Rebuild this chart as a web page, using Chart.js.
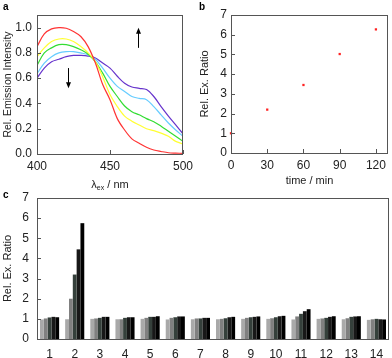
<!DOCTYPE html>
<html>
<head>
<meta charset="utf-8">
<script src="https://cdn.jsdelivr.net/npm/chart.js@4/dist/chart.umd.min.js"></script>
<style>
body { margin: 0; background: #fff; }
#wrap { position: relative; width: 392px; height: 358px; overflow: hidden; }
canvas { position: absolute; }
.lbl { position: absolute; font: bold 10px "Liberation Sans", Arial, sans-serif; color: #000; }
</style>
</head>
<body>
<div id="wrap">
	<canvas id="chartA" style="left:0;top:0" width="195" height="192"></canvas>
	<canvas id="chartB" style="left:195px;top:0" width="197" height="192"></canvas>
	<canvas id="chartC" style="left:0;top:190px" width="392" height="168"></canvas>
	<div class="lbl" style="left:3px;top:1px">a</div>
	<div class="lbl" style="left:199px;top:1px">b</div>
	<div class="lbl" style="left:3px;top:189px">c</div>
</div>
<script>
// panel a : emission spectra
const wavelengths = [400,405,410,415,420,425,430,435,440,445,450,455,460,465,470,475,480,485,490,495,500];
const redCurve    = [0.85,0.95,0.99,1.00,0.995,0.97,0.93,0.85,0.72,0.55,0.43,0.28,0.19,0.12,0.085,0.053,0.032,0.02,0.01,0.007,0.005];
const yellowCurve = [0.77,0.84,0.89,0.91,0.91,0.89,0.85,0.80,0.73,0.61,0.47,0.375,0.30,0.26,0.23,0.20,0.185,0.165,0.14,0.10,0.08];
const greenCurve  = [0.70,0.80,0.84,0.865,0.865,0.85,0.825,0.79,0.73,0.64,0.535,0.455,0.38,0.335,0.31,0.28,0.255,0.22,0.18,0.14,0.10];
const blueCurve   = [0.635,0.72,0.77,0.80,0.81,0.81,0.80,0.785,0.75,0.68,0.60,0.535,0.495,0.455,0.44,0.43,0.375,0.31,0.245,0.19,0.14];
const purpleCurve = [0.60,0.68,0.73,0.75,0.77,0.78,0.78,0.775,0.76,0.72,0.68,0.615,0.56,0.53,0.52,0.51,0.455,0.375,0.30,0.23,0.16];
const curveColors = ["#ff3333","#ffff33","#33dd33","#66ccff","#6633cc"];
const ticksA = [0,0.2,0.4,0.6,0.8,1.0];
const ticksAx = [400,450,500];

// panel b : ratio vs time
const times = [0,30,60,90,120];
const ratios = [1.0,2.2,3.45,5.02,6.27];
const ticksBx = [0,30,60,90,120];
const ticksBy = [0,1,2,3,4,5,6,7];

// panel c : ratio per compound
const compounds = ["1","2","3","4","5","6","7","8","9","10","11","12","13","14"];
const run1 = [0.97,0.98,1.00,0.98,1.00,0.97,0.98,0.98,1.00,1.00,0.97,1.00,0.98,0.95];
const run2 = [1.02,2.00,1.02,0.98,1.05,1.05,1.02,1.00,1.05,1.03,1.12,1.02,1.03,0.98];
const run3 = [1.07,3.20,1.05,1.05,1.10,1.08,1.02,1.03,1.08,1.08,1.25,1.05,1.10,1.00];
const run4 = [1.10,4.45,1.10,1.08,1.10,1.12,1.05,1.08,1.10,1.13,1.38,1.10,1.12,0.98];
const run5 = [1.08,5.75,1.10,1.08,1.13,1.12,1.05,1.10,1.12,1.15,1.48,1.13,1.13,0.97];
const barColors = ["#a9a9a9","#808080","#35403b","#181818","#000000"];

Chart.defaults.font.family = "'Liberation Sans', Arial, sans-serif";
Chart.defaults.font.size = 12;
Chart.defaults.color = "#222";
Chart.defaults.animation = false;
Chart.defaults.responsive = false;
Chart.defaults.plugins.legend.display = false;
Chart.defaults.plugins.tooltip.enabled = false;

const noGrid = { display: false, drawTicks: false };
const titleFont = { size: 11 };

// fixed axis sizes, no extra padding for the end labels
const fitY = w => s => { s.width = w; s.paddingTop = 0; s.paddingBottom = 0; };
const fitX = h => s => { s.height = h; s.paddingLeft = 0; s.paddingRight = 0; };

// box round the plot + small inward ticks
const frame = {
	id: "frame",
	afterDraw(chart) {
		let ctx = chart.ctx;
		let a = chart.chartArea;
		ctx.save();
		ctx.strokeStyle = "#555";
		ctx.lineWidth = 1;
		ctx.strokeRect(a.left + 0.5, a.top + 0.5, a.right - a.left - 1, a.bottom - a.top);
		let y = chart.scales.y;
		y.ticks.forEach(t => {
			let p = Math.round(y.getPixelForValue(t.value)) + 0.5;
			ctx.beginPath();
			ctx.moveTo(a.left, p);
			ctx.lineTo(a.left + 4, p);
			ctx.stroke();
		});
		let x = chart.scales.x;
		if (x.type == "linear") {
			x.ticks.forEach(t => {
				let p = Math.round(x.getPixelForValue(t.value)) + 0.5;
				ctx.beginPath();
				ctx.moveTo(p, a.bottom);
				ctx.lineTo(p, a.bottom - 4);
				ctx.stroke();
			});
		}
		ctx.restore();
	}
};

// arrows and the subscripted axis title of panel a
const panelA = {
	id: "panelA",
	afterDraw(chart) {
		let ctx = chart.ctx;
		let x = chart.scales.x, y = chart.scales.y;
		const arrow = (lx, from, to) => {
			let px = Math.round(x.getPixelForValue(lx)) + 0.5;
			let p1 = y.getPixelForValue(from), p2 = y.getPixelForValue(to);
			let dir = p2 > p1 ? 1 : -1;
			ctx.beginPath();
			ctx.moveTo(px, p1);
			ctx.lineTo(px, p2 - dir * 4);
			ctx.stroke();
			ctx.beginPath();
			ctx.moveTo(px, p2);
			ctx.lineTo(px - 2.5, p2 - dir * 6);
			ctx.lineTo(px + 2.5, p2 - dir * 6);
			ctx.closePath();
			ctx.fill();
		};
		ctx.save();
		ctx.strokeStyle = "#000";
		ctx.fillStyle = "#000";
		ctx.lineWidth = 1;
		arrow(469, 0.84, 1.0);
		arrow(421, 0.68, 0.52);

		// λex / nm
		let a = chart.chartArea;
		let cx = (a.left + a.right) / 2;
		let by = 188;
		ctx.fillStyle = "#222";
		ctx.textBaseline = "alphabetic";
		ctx.font = "11px 'Liberation Sans', Arial, sans-serif";
		let w1 = ctx.measureText("λ").width;
		let w3 = ctx.measureText(" / nm").width;
		ctx.font = "7px 'Liberation Sans', Arial, sans-serif";
		let w2 = ctx.measureText("ex").width;
		let sx = cx - (w1 + w2 + w3) / 2;
		ctx.font = "11px 'Liberation Sans', Arial, sans-serif";
		ctx.fillText("λ", sx, by);
		ctx.font = "7px 'Liberation Sans', Arial, sans-serif";
		ctx.fillText("ex", sx + w1, by + 2);
		ctx.font = "11px 'Liberation Sans', Arial, sans-serif";
		ctx.fillText(" / nm", sx + w1 + w2, by);
		ctx.restore();
	}
};

const fixTicks = list => scale => { scale.ticks = list.map(v => ({ value: v })); };

let curves = [redCurve, yellowCurve, greenCurve, blueCurve, purpleCurve];
new Chart(document.getElementById("chartA"), {
	type: "line",
	data: {
		datasets: curves.map((c, i) => ({
			data: c.map((v, j) => ({ x: wavelengths[j], y: v })),
			borderColor: curveColors[i],
			borderWidth: 1.2,
			pointRadius: 0,
			tension: 0.35
		}))
	},
	options: {
		layout: { padding: { top: 15, right: 12 } },
		scales: {
			x: {
				type: "linear", min: 400, max: 500,
				grid: noGrid,
				border: { display: false },
				afterBuildTicks: fixTicks(ticksAx),
				ticks: { padding: 5, maxRotation: 0 },
				afterFit: fitX(38)
			},
			y: {
				min: 0, max: 1.1,
				grid: noGrid,
				border: { display: false },
				afterBuildTicks: fixTicks(ticksA),
				ticks: { padding: 5, callback: v => v.toFixed(1) },
				title: { display: true, text: "Rel. Emission Intensity", padding: { top: 2 }, font: { size: 10.5 } },
				afterFit: fitY(37)
			}
		}
	},
	plugins: [frame, panelA]
});

new Chart(document.getElementById("chartB"), {
	type: "scatter",
	data: {
		datasets: [{
			data: times.map((t, i) => ({ x: t, y: ratios[i] })),
			pointStyle: "rect",
			pointRadius: 1.6,
			backgroundColor: "#ff2222",
			borderColor: "#ff2222",
			borderWidth: 0
		}]
	},
	options: {
		layout: { padding: { top: 15, right: 3 } },
		clip: false,
		scales: {
			x: {
				type: "linear", min: 0, max: 130,
				grid: noGrid,
				border: { display: false },
				afterBuildTicks: fixTicks(ticksBx),
				ticks: { padding: 5, maxRotation: 0 },
				title: { display: true, text: "time / min", padding: { top: 3 }, font: titleFont },
				afterFit: fitX(39)
			},
			y: {
				min: 0, max: 7,
				grid: noGrid,
				border: { display: false },
				afterBuildTicks: fixTicks(ticksBy),
				ticks: { padding: 4 },
				title: { display: true, text: "Rel. Ex. Ratio", padding: { top: 3 }, font: titleFont },
				afterFit: fitY(36)
			}
		}
	},
	plugins: [frame]
});

let runs = [run1, run2, run3, run4, run5];
new Chart(document.getElementById("chartC"), {
	type: "bar",
	data: {
		labels: compounds,
		datasets: runs.map((r, i) => ({
			data: r,
			backgroundColor: barColors[i],
			categoryPercentage: 0.76,
			barPercentage: 1.0
		}))
	},
	options: {
		layout: { padding: { top: 8, right: 3 } },
		scales: {
			x: {
				grid: noGrid,
				border: { display: false },
				ticks: { padding: 8, maxRotation: 0 },
				afterFit: fitX(19)
			},
			y: {
				min: 0, max: 7,
				grid: noGrid,
				border: { display: false },
				afterBuildTicks: fixTicks(ticksBy),
				ticks: { padding: 8 },
				title: { display: true, text: "Rel. Ex. Ratio", padding: { top: 1 }, font: titleFont },
				afterFit: fitY(37)
			}
		}
	},
	plugins: [frame]
});
</script>
</body>
</html>
